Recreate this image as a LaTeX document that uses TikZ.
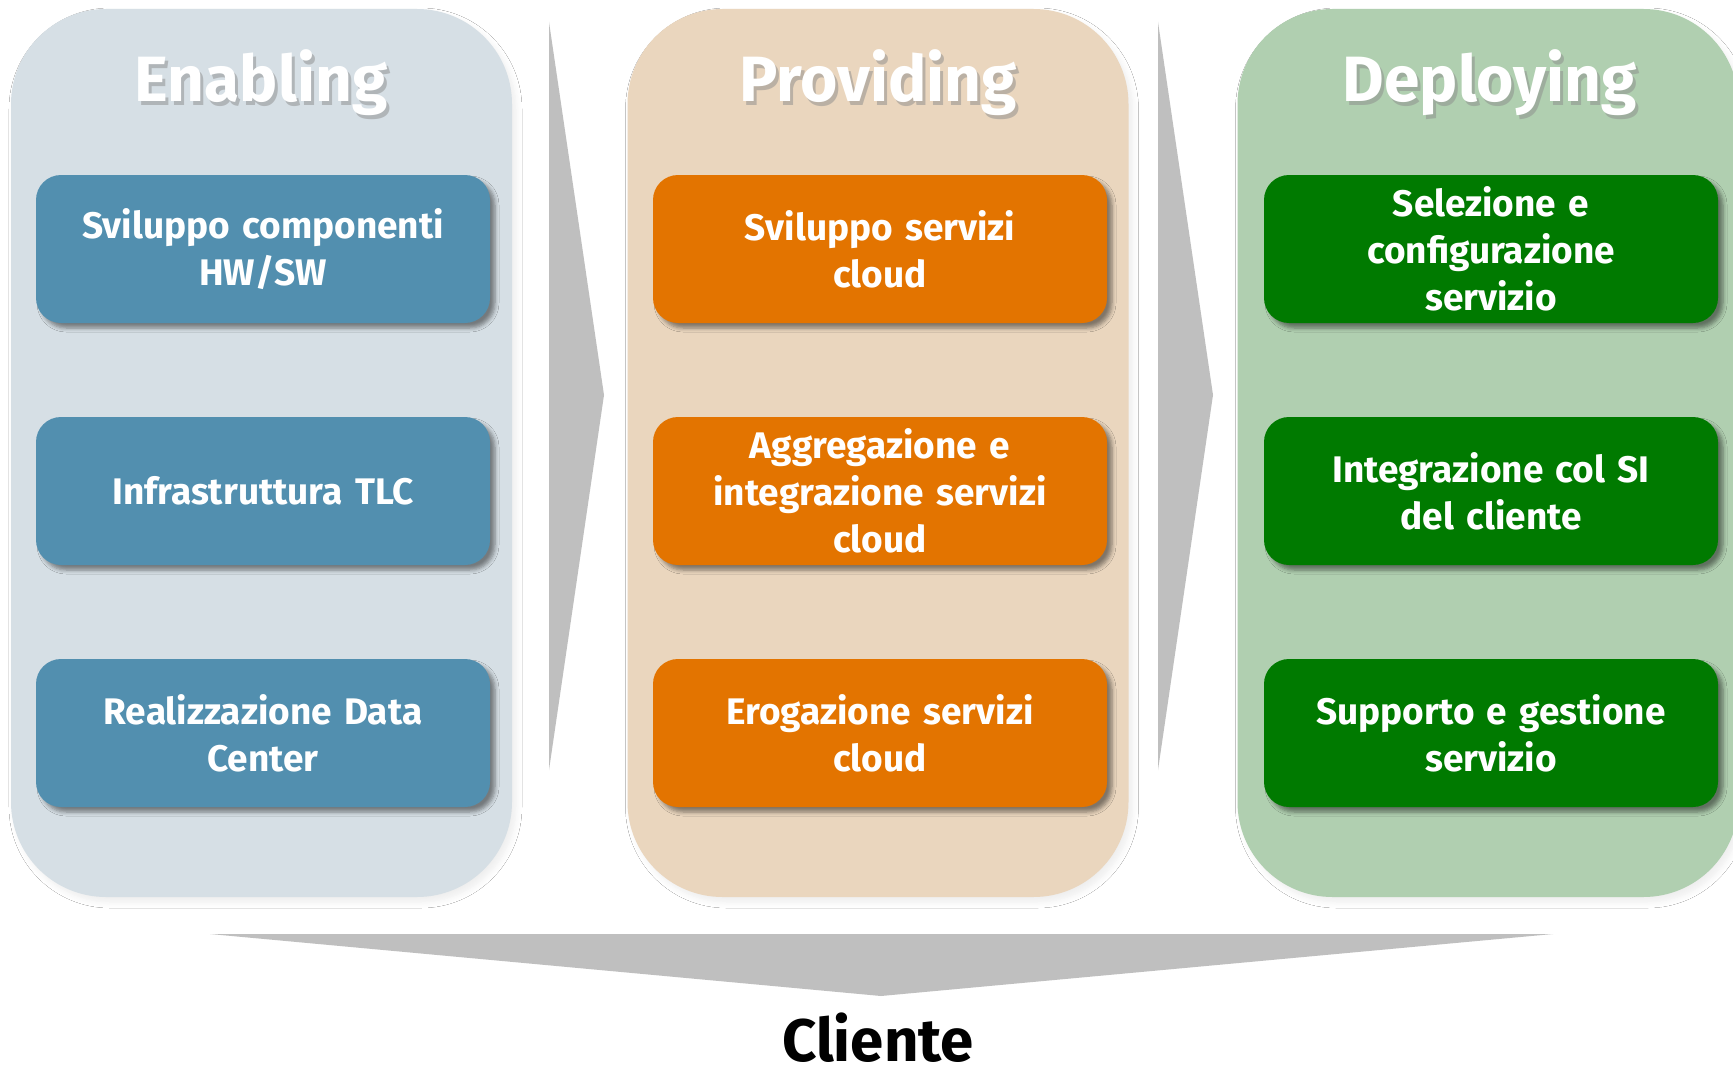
\documentclass[tikz,border=0pt]{standalone}
\usepackage{fontspec}
\setmainfont{Fira Sans}
\usetikzlibrary{shadows,shadows.blur}
\definecolor{panelA}{HTML}{D6DFE5}
\definecolor{panelB}{HTML}{EAD6BE}
\definecolor{panelC}{HTML}{B0CFB0}
\definecolor{boxA}{HTML}{528FAF}
\definecolor{boxB}{HTML}{E37400}
\definecolor{boxC}{HTML}{007A00}
\definecolor{chev}{HTML}{BFBFBF}
\tikzset{
  panel/.style={rounded corners=95pt, minimum width=501pt, minimum height=888pt, inner sep=0pt,
    blur shadow={shadow xshift=4pt, shadow yshift=-5pt, shadow blur steps=8, shadow blur radius=6pt, shadow opacity=7}},
  itembox/.style={rounded corners=25pt, minimum width=454pt, minimum height=148pt, text width=440pt,
    align=center, text=white, font=\fontsize{37}{47}\selectfont\bfseries, inner sep=0pt,
    blur shadow={shadow xshift=5pt, shadow yshift=-5pt, shadow blur steps=5, shadow blur radius=4pt, shadow opacity=45}},
  title/.style={text=white, font=\fontsize{64}{70}\selectfont\bfseries, inner sep=0pt},
  titleshadow/.style={text=black!45, opacity=0.5, font=\fontsize{64}{70}\selectfont\bfseries, inner sep=0pt},
  chevron/.style={fill=chev, draw=none}
}
\begin{document}
\begin{tikzpicture}[x=1pt, y=-1pt]
\useasboundingbox (0,0) rectangle (1733,1073);
\clip (0,0) rectangle (1733,1073);
\fill[white] (0,0) rectangle (1733,1073);
% panels
\node[panel, fill=panelA] (pA) at (261.5,453) {};
\node[panel, fill=panelB] (pB) at (878,453) {};
\node[panel, fill=panelC] (pC) at (1488,453) {};
% titles
\node[titleshadow] at (264,87) {Enabling};
\node[title] (tA) at (261,83) {Enabling};
\node[titleshadow] at (881,87) {Providing};
\node[title] (tB) at (878,83) {Providing};
\node[titleshadow] at (1493,87) {Deploying};
\node[title] (tC) at (1490,83) {Deploying};
% boxes
\node[itembox, fill=boxA] (a1) at (263,249) {Sviluppo componenti\\HW/SW};
\node[itembox, fill=boxA] (a2) at (263,491) {Infrastruttura TLC};
\node[itembox, fill=boxA] (a3) at (263,733) {Realizzazione Data\\Center};
\node[itembox, fill=boxB] (b1) at (880,249) {Sviluppo servizi\\cloud};
\node[itembox, fill=boxB] (b2) at (880,491) {Aggregazione e\\integrazione servizi\\cloud};
\node[itembox, fill=boxB] (b3) at (880,733) {Erogazione servizi\\cloud};
\node[itembox, fill=boxC] (c1) at (1491,249) {Selezione e\\configurazione\\servizio};
\node[itembox, fill=boxC] (c2) at (1491,491) {Integrazione col SI\\del cliente};
\node[itembox, fill=boxC] (c3) at (1491,733) {Supporto e gestione\\servizio};
% chevrons
\fill[chevron] (549,22) -- (604,395) -- (549,770) -- cycle;
\fill[chevron] (1158,22) -- (1213,395) -- (1158,770) -- cycle;
\fill[chevron] (210,934) -- (1553,934) -- (881,996) -- cycle;
% client
\node[font=\fontsize{60}{64}\selectfont\bfseries, inner sep=0pt] (cl) at (878,1038) {Cliente};
\end{tikzpicture}
\end{document}
